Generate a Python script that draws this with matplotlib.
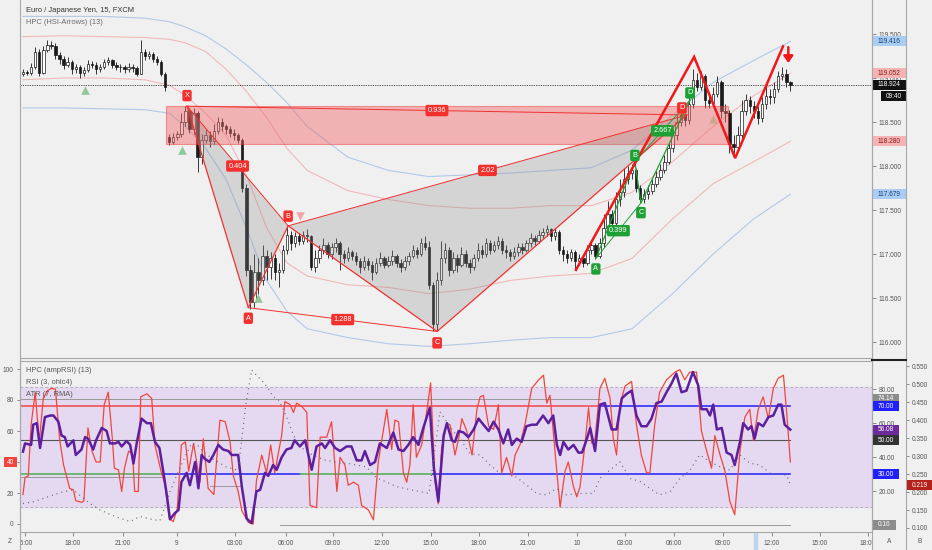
import numpy as np
import matplotlib
matplotlib.use("Agg")
import matplotlib.pyplot as plt
from matplotlib.patches import Rectangle, Polygon
from matplotlib.lines import Line2D
from matplotlib.transforms import blended_transform_factory as blend

plt.rcParams['font.family'] = ['Liberation Sans', 'DejaVu Sans']

# ---- price data (EURJPY 15m) ----
first_open = 119.05
gap_opens = {36: 118.33}
closes = [
    119.07, 119.06, 119.12, 119.30, 119.06, 119.32, 119.38, 119.36, 119.26, 119.22,
    119.15, 119.18, 119.10, 119.12, 119.06, 119.09, 119.16, 119.15, 119.10, 119.12,
    119.18, 119.20, 119.15, 119.13, 119.12, 119.10, 119.13, 119.11, 119.05, 119.30,
    119.25, 119.27, 119.22, 119.18, 119.05, 118.90, 118.27, 118.33, 118.36, 118.50,
    118.62, 118.42, 118.60, 118.10, 118.30, 118.35, 118.28, 118.40, 118.50, 118.45,
    118.42, 118.38, 118.35, 118.30, 117.75, 116.82, 116.45, 116.80, 116.70, 116.98,
    116.85, 116.95, 116.80, 116.82, 117.05, 117.22, 117.12, 117.20, 117.15, 117.22,
    117.20, 116.85, 116.95, 117.05, 117.10, 117.00, 117.08, 117.12, 117.00, 116.95,
    117.02, 116.98, 116.92, 116.85, 116.92, 116.88, 116.80, 116.90, 116.95, 116.88,
    116.92, 116.98, 116.90, 116.85, 116.92, 116.98, 117.05, 117.00, 117.12, 117.08,
    116.65, 116.20, 116.70, 116.95, 117.05, 116.82, 116.95, 116.88, 117.00, 116.90,
    116.85, 116.95, 117.05, 117.00, 117.12, 117.05, 117.10, 117.15, 117.05, 117.02,
    116.98, 117.02, 117.08, 117.05, 117.12, 117.18, 117.15, 117.22, 117.25, 117.28,
    117.20, 117.25, 117.05, 117.00, 116.95, 117.02, 116.92, 116.95, 116.90, 117.05,
    117.10, 116.98, 117.12, 117.30, 117.45, 117.35, 117.62, 117.70, 117.85, 117.92,
    117.95, 117.75, 117.62, 117.68, 117.72, 117.80, 117.88, 117.95, 118.05, 118.20,
    118.35, 118.50, 118.58, 118.52, 118.70, 118.98, 118.90, 119.02, 118.75, 118.72,
    118.82, 118.95, 118.62, 118.60, 118.25, 118.22, 118.35, 118.62, 118.75, 118.68,
    118.62, 118.55, 118.70, 118.80, 118.78, 118.88, 119.02, 119.05, 118.95, 118.92,
]
highs = [
    119.10, 119.09, 119.17, 119.35, 119.33, 119.36, 119.43, 119.42, 119.40, 119.30,
    119.25, 119.24, 119.21, 119.16, 119.15, 119.13, 119.20, 119.19, 119.18, 119.16,
    119.22, 119.24, 119.22, 119.18, 119.16, 119.15, 119.17, 119.16, 119.14, 119.43,
    119.33, 119.31, 119.29, 119.25, 119.20, 119.07, 118.36, 118.37, 118.40, 118.60,
    118.68, 118.66, 118.66, 118.62, 118.36, 118.42, 118.40, 118.48, 118.56, 118.54,
    118.48, 118.46, 118.42, 118.38, 118.32, 117.80, 116.88, 117.00, 116.95, 117.10,
    117.05, 117.02, 117.00, 116.90, 117.10, 117.32, 117.26, 117.25, 117.24, 117.26,
    117.28, 117.22, 117.05, 117.10, 117.18, 117.14, 117.12, 117.18, 117.15, 117.05,
    117.08, 117.05, 117.02, 116.95, 116.98, 116.96, 116.92, 116.96, 117.02, 116.98,
    116.98, 117.04, 117.00, 116.94, 116.98, 117.02, 117.10, 117.08, 117.18, 117.20,
    117.15, 116.68, 116.80, 117.15, 117.12, 117.08, 117.02, 117.00, 117.08, 117.05,
    116.94, 117.00, 117.12, 117.10, 117.18, 117.16, 117.15, 117.20, 117.18, 117.10,
    117.06, 117.08, 117.12, 117.12, 117.16, 117.24, 117.22, 117.27, 117.30, 117.33,
    117.30, 117.30, 117.27, 117.09, 117.05, 117.06, 117.05, 117.00, 116.98, 117.10,
    117.16, 117.12, 117.18, 117.45, 117.60, 117.50, 117.70, 117.85, 117.98, 118.00,
    118.02, 117.98, 117.78, 117.74, 117.78, 117.85, 117.94, 118.02, 118.12, 118.26,
    118.42, 118.58, 118.65, 118.66, 118.78, 119.10, 119.06, 119.08, 119.05, 118.82,
    118.90, 119.02, 118.98, 118.70, 118.64, 118.35, 118.45, 118.75, 118.82, 118.80,
    118.74, 118.68, 118.78, 118.92, 118.88, 118.95, 119.08, 119.12, 119.10, 118.97,
]
lows = [
    119.02, 119.03, 119.03, 119.10, 119.02, 119.05, 119.30, 119.33, 119.22, 119.16,
    119.10, 119.12, 119.05, 119.06, 119.00, 119.02, 119.07, 119.11, 119.05, 119.07,
    119.10, 119.15, 119.11, 119.09, 119.07, 119.06, 119.07, 119.07, 119.02, 119.04,
    119.21, 119.22, 119.18, 119.15, 119.02, 118.85, 118.24, 118.25, 118.30, 118.33,
    118.45, 118.38, 118.36, 117.93, 118.02, 118.26, 118.22, 118.25, 118.36, 118.40,
    118.36, 118.33, 118.30, 118.26, 117.70, 116.75, 116.38, 116.40, 116.55, 116.65,
    116.70, 116.72, 116.70, 116.62, 116.78, 117.00, 117.05, 117.08, 117.10, 117.11,
    117.14, 116.82, 116.80, 116.90, 117.00, 116.95, 116.94, 117.02, 116.82, 116.90,
    116.92, 116.93, 116.88, 116.78, 116.82, 116.82, 116.70, 116.77, 116.86, 116.84,
    116.85, 116.88, 116.85, 116.80, 116.82, 116.88, 116.95, 116.96, 116.98, 117.04,
    116.60, 116.13, 116.12, 116.65, 116.90, 116.75, 116.78, 116.80, 116.85, 116.85,
    116.78, 116.82, 116.92, 116.95, 116.97, 117.00, 117.02, 117.06, 117.00, 116.96,
    116.92, 116.94, 116.98, 117.00, 117.02, 117.08, 117.10, 117.12, 117.18, 117.20,
    117.15, 117.16, 117.00, 116.92, 116.90, 116.92, 116.82, 116.88, 116.85, 116.88,
    117.00, 116.94, 116.96, 117.08, 117.25, 117.28, 117.30, 117.55, 117.65, 117.80,
    117.85, 117.70, 117.58, 117.58, 117.63, 117.68, 117.76, 117.84, 117.92, 118.02,
    118.16, 118.30, 118.45, 118.46, 118.48, 118.66, 118.85, 118.86, 118.66, 118.66,
    118.68, 118.78, 118.55, 118.50, 118.15, 118.15, 118.18, 118.30, 118.58, 118.60,
    118.55, 118.48, 118.50, 118.65, 118.70, 118.72, 118.84, 118.98, 118.90, 118.85,
]

# envelope bands
band_bars = [0, 10, 20, 30, 36, 40, 45, 50, 55, 60, 65, 70, 80, 90, 100, 110, 120, 130, 140, 150, 160, 170, 180, 189]
upper_blue = [119.70, 119.70, 119.70, 119.68, 119.64, 119.58, 119.48, 119.33, 119.15, 118.95, 118.72, 118.45,
              118.10, 117.95, 117.88, 117.90, 117.92, 117.95, 117.98, 118.18, 118.58, 118.95, 119.20, 119.416]
upper_pink = [119.47, 119.48, 119.47, 119.46, 119.44, 119.40, 119.30, 119.10, 118.85, 118.55, 118.20, 117.95,
              117.72, 117.62, 117.55, 117.52, 117.52, 117.55, 117.55, 117.70, 118.05, 118.45, 118.80, 119.052]
lower_pink = [118.98, 119.00, 119.00, 118.98, 118.92, 118.80, 118.60, 118.35, 117.90, 117.30, 116.90, 116.75,
              116.65, 116.62, 116.55, 116.60, 116.70, 116.75, 116.78, 116.95, 117.40, 117.80, 118.05, 118.28]
lower_blue = [118.66, 118.66, 118.65, 118.64, 118.60, 118.45, 118.20, 117.85, 117.30, 116.70, 116.35, 116.15,
              116.05, 115.98, 115.95, 115.98, 116.02, 116.05, 116.05, 116.15, 116.55, 117.00, 117.40, 117.679]

# harmonic patterns
xabcd_names = ['X', 'A', 'B', 'C', 'D']
xabcd_bars = [40.4, 55.5, 65.3, 102.0, 163.5]
xabcd_prices = [118.68, 116.39, 117.32, 116.12, 118.58]
xabcd_ratios = ['0.404', '1.288', '2.02', '0.936']  # XB, AC, BD, XD
abcd_names = ['A', 'B', 'C', 'D']
abcd_bars = [141.1, 150.7, 152.2, 164.3]
abcd_prices = [116.95, 118.05, 117.58, 118.75]
abcd_ratios = ['0.399', '2.667']  # AC, BD
zone_bars = [35.2, 173.6]
zone_prices = [118.25, 118.68]
zigzag_bars = [136.2, 165.3, 175.4, 187.2]
zigzag_prices = [116.82, 119.24, 118.09, 119.36]
buy_bars = [15.3, 39.2, 57.9]
buy_prices = [118.86, 118.18, 116.50]
warn_bars = [170.0]
warn_prices = [118.53]
sell_bars = [68.2]
sell_prices = [117.43]
arrow_bar, arrow_top, arrow_tip = 188.5, 119.35, 119.17
last_price = 118.924

# ---- oscillators ----
rsi_bars = [0, 0.5, 1.3, 2, 3, 4, 5, 6, 7, 8, 9, 10, 11.5, 12.4, 13, 14.5, 15, 16, 17, 18, 19, 20, 21, 22,
            22.5, 23.5, 24.3, 25, 26, 27, 27.5, 28.4, 29, 30.5, 31.7, 32.5, 34, 35, 36, 37, 38, 39, 40, 40.8,
            42, 43.6, 44.4, 45.6, 47, 48.5, 49.8, 51, 51.8, 53, 53.9, 55.5, 56.7, 57.5, 58.8, 60, 61, 62,
            63.7, 64.5, 65.8, 66.6, 67.4, 68.6, 69.9, 70.7, 72.3, 73.2, 74.8, 76, 77.3, 78.1, 79.3, 80.1,
            81.4, 82.6, 83.4, 85.1, 86.3, 87.5, 89.6, 90.8, 91.6, 92.5, 93.7, 94.5, 95.3, 96.1, 96.9, 98.2,
            99.4, 100.4, 101.5, 102.3, 103.1, 104.4, 105.2, 106.4, 107.3, 108.1, 109.3, 110.6, 111.8, 112.6,
            113.4, 114.7, 115.9, 117.1, 117.9, 119.1, 120.4, 121.2, 122.4, 123.7, 125.3, 127, 128.2, 129,
            129.8, 130.7, 131.5, 132.3, 133.5, 134.3, 135.6, 136.4, 137.2, 138.4, 139.3, 140.1, 140.9, 142.1,
            143.3, 144.6, 145.4, 146.2, 147, 148.3, 149.9, 151.1, 152.3, 153.6, 154.4, 155.6, 156.8, 158.5,
            160.6, 161.8, 163, 164.2, 165.9, 167.1, 168.4, 169.6, 170.4, 171.7, 172.9, 174.1, 175.3, 176.6,
            177.8, 179, 179.9, 181.1, 182.3, 183.6, 184.8, 186, 187.3, 188.1, 189]
rsi_vals = [19, 30, 31, 64, 85, 53, 81, 86, 87.5, 87, 55, 38, 23, 22, 15, 14, 15, 62, 47, 40, 40, 77, 85, 55,
            36, 35, 21, 36, 47, 45, 21, 21, 82, 84, 81, 51, 34, 25, 4, 1.5, 10, 51, 53, 34,
            52, 27, 55, 23, 19, 67, 66, 53, 31, 21, 8.6, 1, 0, 28, 44.5, 33, 51, 33,
            57, 79, 77, 72, 78, 76, 72, 12, 10.5, 56, 56, 66, 21, 43, 38, 25,
            27, 25, 12, 9, 2.7, 40, 74, 48, 67, 66, 33, 27, 38, 77, 43, 51,
            72, 91, 27, 13, 49, 65, 64, 44.5, 55, 68, 60, 44.5, 74, 82,
            83, 63, 61, 77, 33, 43, 31, 44.5, 51, 65, 87.5, 93, 96, 78,
            83, 57, 33, 11, 34, 40, 24, 17.5, 24, 51, 75, 52, 55, 87.5,
            94, 81, 55, 44.5, 77, 89, 92, 64, 44.5, 33, 33, 64, 85, 93,
            98, 99.6, 93, 98, 98, 60, 47, 36, 57, 44.5, 34, 14.6, 6, 47,
            69, 74, 54, 74, 82, 68, 87.5, 94, 96, 72, 40]

amp_bars = [0, 0.5, 2, 2.5, 3.4, 4.2, 5.4, 6.7, 7.5, 8.7, 9.5, 10.3, 11, 12.4, 13, 14.4, 15.3, 16, 17.3, 18,
            19.4, 20.6, 21.4, 22.7, 23.5, 24.3, 25.5, 26.4, 27.2, 28, 29.2, 30.5, 31.5, 32.5, 33.6, 34.6,
            35.4, 36.2, 37.4, 38.3, 39, 40.3, 41.1, 42.4, 43.2, 44, 44.8, 45.9, 46.9, 48.1, 49.3, 50.6, 51.4,
            53, 53.9, 55.1, 56.3, 57.5, 58.4, 59.6, 60.4, 61.6, 62.5, 63.7, 64.9, 66.1, 66.9, 68.2, 69.5,
            71.1, 72.3, 73.6, 74.4, 75.6, 76.9, 78.1, 79.7, 80.9, 82.2, 83.4, 84.2, 85.5, 86.7, 87.9, 89.6,
            91.2, 92.5, 93.7, 94.9, 96.1, 97.4, 98.6, 100.2, 101.2, 102.3, 103.6, 104.4, 105.6, 106.4, 107.3,
            108.5, 109.7, 111, 112.2, 113.4, 114.7, 115.9, 117.1, 118.3, 119.5, 120.4, 121.6, 122.8, 124,
            125.3, 126.5, 128.1, 129.4, 130.6, 131.5, 132.3, 133.1, 134.3, 135.6, 136.8, 137.7, 138.9, 139.7,
            140.9, 142.1, 143.3, 144.2, 145, 146.2, 147.5, 148.7, 149.9, 151.1, 152.3, 153.6, 154.8, 156,
            157.3, 158.5, 159.7, 160.9, 162.2, 163.4, 165, 166.3, 167.1, 168.4, 169.2, 170, 170.9, 172.1,
            173.3, 174.5, 175.3, 176.6, 177.4, 178.6, 179.4, 180.2, 181.1, 182.3, 183.6, 184.8, 186, 186.8,
            187.6, 189]
amp_vals = [43.2, 48.0, 47.1, 59.0, 59.9, 45.3, 63.5, 64.4, 64.4, 60.8, 52.6, 51.7, 46.2, 49.8, 41.2, 44.4,
            51.7, 50.8, 44.4, 49.8, 57.1, 55.3, 48.0, 48.0, 48.9, 46.2, 49.4, 47.1, 36.2, 48.0, 62.6, 59.9,
            59.9, 48.9, 45.3, 30.7, 17.9, 3.3, 7.0, 8.8, 25.2, 30.7, 23.4, 37.1, 21.6, 41.2, 38.9, 37.1, 41.2,
            47.1, 44.4, 43.5, 41.2, 41.2, 22.5, 3.8, 1.1, 19.8, 20.7, 30.7, 28.9, 35.3, 32.5, 39.8, 44.4,
            45.3, 49.8, 46.2, 49.8, 32.5, 46.2, 48.0, 45.3, 49.8, 45.3, 43.5, 46.2, 46.2, 38.0, 38.0, 43.5,
            35.3, 37.1, 48.0, 45.3, 54.4, 44.4, 43.5, 47.1, 51.7, 47.1, 57.1, 69.0, 33.4, 13.9, 52.6, 59.9,
            49.8, 48.9, 55.3, 54.4, 51.7, 56.2, 62.6, 59.0, 55.3, 60.8, 56.2, 48.0, 56.2, 47.1, 50.8, 48.9,
            58.1, 59.0, 59.0, 64.4, 59.9, 64.4, 47.1, 41.2, 48.9, 44.4, 47.1, 42.6, 42.6, 50.8, 57.1, 43.5,
            70.8, 71.7, 63.5, 56.2, 56.2, 74.5, 77.2, 79.0, 64.4, 58.1, 58.1, 62.6, 71.7, 72.6, 78.1, 83.1,
            89.1, 78.1, 79.0, 90.0, 82.2, 68.1, 68.1, 64.4, 70.8, 56.2, 57.1, 42.6, 41.2, 35.3, 48.9, 59.9,
            56.2, 58.1, 50.8, 59.9, 58.1, 63.5, 64.4, 70.8, 70.8, 59.0, 56.08]

atr_bars = [0, 2.5, 5, 7.5, 10, 12.4, 14.4, 16.5, 19, 21.4, 23.9, 26.4, 28.8, 31.3, 33.7, 36.2, 38, 40, 41.5,
            43, 44.5, 47, 50, 53, 54.8, 56.3, 57.9, 59.1, 60.4, 61.6, 62.9, 64.1, 65.4, 66.6, 68, 70, 72, 74,
            76, 78, 80, 82, 84.5, 87, 90, 92, 96, 100, 102.7, 104.4, 106, 107.6, 110, 112.6, 115, 117.5,
            120.8, 124, 126.5, 129, 131.4, 133.9, 137.2, 140.5, 142.1, 144.6, 147, 149.5, 152, 154.4, 156.8,
            159.4, 161.8, 164.3, 166.7, 169.2, 171.7, 174.1, 176.6, 179, 181.5, 184, 186.4, 188.1, 189]
atr_vals = [0.168, 0.173, 0.182, 0.192, 0.201, 0.206, 0.187, 0.168, 0.150, 0.138, 0.127, 0.118, 0.132, 0.125,
            0.120, 0.200, 0.250, 0.300, 0.335, 0.330, 0.310, 0.290, 0.270, 0.260, 0.437, 0.539, 0.520, 0.506,
            0.488, 0.465, 0.456, 0.430, 0.395, 0.358, 0.330, 0.310, 0.300, 0.290, 0.285, 0.280, 0.280, 0.275,
            0.270, 0.240, 0.225, 0.215, 0.205, 0.196, 0.423, 0.395, 0.368, 0.350, 0.307, 0.303, 0.275, 0.252,
            0.247, 0.220, 0.196, 0.192, 0.210, 0.192, 0.196, 0.196, 0.238, 0.261, 0.284, 0.238, 0.229, 0.210,
            0.192, 0.201, 0.238, 0.261, 0.303, 0.284, 0.270, 0.261, 0.303, 0.280, 0.275, 0.252, 0.249, 0.247,
            0.219]

time_ticks = [0.5, 12.3, 24.6, 37.9, 52.2, 64.8, 76.4, 88.4, 100.5, 112.3, 124.4, 136.5, 148.3, 160.3,
              172.4, 184.5, 196.3, 208.1]
time_labels = ['15:00', '18:00', '21:00', '9', '03:00', '06:00', '09:00', '12:00', '15:00', '18:00',
               '21:00', '10', '03:00', '06:00', '09:00', '12:00', '15:00', '18:00']

# ---- layout (pixel based, 932x550) ----
W, H = 932, 550
BG = '#f0f0f0'
GRID = '#a8a8a8'
TXT = '#555555'
RED = '#f2312f'
GREEN = '#1fa035'
FS = 4.7

fig = plt.figure(figsize=(W / 100, H / 100), dpi=100, facecolor=BG)


def px_axes(x0, y0, x1, y1, **kw):
    return fig.add_axes([x0 / W, 1 - y1 / H, (x1 - x0) / W, (y1 - y0) / H], **kw)


def tag(axis, x0, x1, value, text, fc, dpp, tc='white', h=10):
    # price-scale tag: fixed pixel box, centred on value
    tr = blend(fig.transFigure, axis.transData)
    axis.add_patch(Rectangle((x0 / W, value - h / 2 * dpp), (x1 - x0) / W, h * dpp, transform=tr,
                             fc=fc, ec='none', clip_on=False, zorder=20))
    axis.text((x0 + x1) / 2 / W, value, text, transform=tr, ha='center', va='center', fontsize=FS,
              color=tc, zorder=21, clip_on=False)


def label(axis, x, y, text, fc):
    axis.text(x, y, text, ha='center', va='center', fontsize=5.3, color='white', zorder=12,
              bbox=dict(boxstyle='round,pad=0.3,rounding_size=0.25', fc=fc, ec='none'))


XMIN = -0.74
XMAX = XMIN + 852 / 4.06

# ================= main price panel =================
ax = px_axes(20, 0, 872, 358)
ax.set_facecolor(BG)
ax.set_xlim(XMIN, XMAX)
ax.set_ylim(116 - 16 / 88, 116 + 342 / 88)
DPP_MAIN = 1 / 88

n = len(closes)
bars = np.arange(n)
opens = np.array([first_open] + closes[:-1])
for k, v in gap_opens.items():
    opens[k] = v
c = np.array(closes)
up = c >= opens
body_lo = np.minimum(opens, c)
body_h = np.maximum(np.abs(c - opens), 0.006)

ax.plot(band_bars, upper_blue, color='#b3c9e9', lw=0.8, zorder=1)
ax.plot(band_bars, lower_blue, color='#b3c9e9', lw=0.8, zorder=1)
ax.plot(band_bars, upper_pink, color='#f1b9b9', lw=0.8, zorder=1)
ax.plot(band_bars, lower_pink, color='#f1b9b9', lw=0.8, zorder=1)

ax.vlines(bars, lows, highs, color='#1a1a1a', lw=0.6, zorder=3)
ax.bar(bars, body_h, bottom=body_lo, width=0.6, color=np.where(up, 'white', '#1a1a1a'),
       edgecolor='#1a1a1a', linewidth=0.5, zorder=3)

ax.axhline(last_price, color='#444', lw=0.7, ls=(0, (1.2, 1.2)), zorder=2)

# supply zone
ax.add_patch(Rectangle((zone_bars[0], zone_prices[0]), zone_bars[1] - zone_bars[0],
                       zone_prices[1] - zone_prices[0], facecolor='#f06868', alpha=0.45,
                       edgecolor=RED, lw=0.8, zorder=4))

# XABCD pattern
P = list(zip(xabcd_bars, xabcd_prices))
ax.add_patch(Polygon([P[0], P[1], P[2]], closed=True, fc='#8c8c8c', alpha=0.28, ec='none', zorder=4))
ax.add_patch(Polygon([P[2], P[3], P[4]], closed=True, fc='#8c8c8c', alpha=0.28, ec='none', zorder=4))
ax.plot(xabcd_bars, xabcd_prices, color=RED, lw=0.9, zorder=5)
pairs = [(0, 2), (1, 3), (2, 4), (0, 4)]
for (a, b), r in zip(pairs, xabcd_ratios):
    ax.plot([P[a][0], P[b][0]], [P[a][1], P[b][1]], color=RED, lw=0.7, zorder=5)
    label(ax, (P[a][0] + P[b][0]) / 2, (P[a][1] + P[b][1]) / 2, r, RED)
offs = [(0, 0.12), (0, -0.12), (0, 0.11), (0, -0.13), (-1.2, 0.08)]
for name, (bx, by), (dx, dy) in zip(xabcd_names, P, offs):
    label(ax, bx + dx, by + dy, name, RED)

# ABCD pattern
G = list(zip(abcd_bars, abcd_prices))
ax.plot(abcd_bars, abcd_prices, color=GREEN, lw=0.9, zorder=6)
for (a, b), r in zip([(0, 2), (1, 3)], abcd_ratios):
    ax.plot([G[a][0], G[b][0]], [G[a][1], G[b][1]], color=GREEN, lw=0.7, zorder=6)
    label(ax, (G[a][0] + G[b][0]) / 2, (G[a][1] + G[b][1]) / 2, r, GREEN)
goffs = [(0, -0.12), (0, 0.07), (0, -0.11), (0, 0.08)]
for name, (bx, by), (dx, dy) in zip(abcd_names, G, goffs):
    label(ax, bx + dx, by + dy, name, GREEN)

# zigzag + signals
ax.plot(zigzag_bars, zigzag_prices, color='#f01818', lw=1.8, zorder=7, solid_joinstyle='miter')
ax.scatter(buy_bars, buy_prices, marker='^', s=38, color='#8dc99a', zorder=8, linewidths=0)
ax.scatter(warn_bars, warn_prices, marker='^', s=38, color='#c9a98a', zorder=8, linewidths=0)
ax.scatter(sell_bars, sell_prices, marker='v', s=38, color='#f3a2aa', zorder=8, linewidths=0)
ax.annotate('', xy=(arrow_bar, arrow_tip), xytext=(arrow_bar, arrow_top),
            arrowprops=dict(arrowstyle='-|>,head_width=0.28,head_length=0.4', color='#f01818', lw=1.8,
                            shrinkA=0, shrinkB=0),
            zorder=9)

ax.yaxis.tick_right()
yt = np.arange(116.0, 119.51, 0.5)
ax.set_yticks(yt)
ax.set_yticklabels(['%.3f' % v for v in yt])
ax.tick_params(axis='y', length=3, width=0.6, color='#777', pad=2, labelsize=FS, labelcolor=TXT)
ax.set_xticks([])
for s in ['top', 'left']:
    ax.spines[s].set_visible(False)
for s in ['right', 'bottom']:
    ax.spines[s].set_color(GRID)
    ax.spines[s].set_linewidth(0.8)

tag(ax, 872, 906, 119.416, '119.416', '#a9cdf3', DPP_MAIN, '#1a3f73')
tag(ax, 872, 906, 119.052, '119.052', '#f5b3b3', DPP_MAIN, '#8b1a1a')
tag(ax, 872, 906, last_price, '118.924', '#111111', DPP_MAIN)
tag(ax, 881, 906, 118.795, '09:40', '#111111', DPP_MAIN)
tag(ax, 872, 906, 118.280, '118.280', '#f5b3b3', DPP_MAIN, '#8b1a1a')
tag(ax, 872, 906, 117.679, '117.679', '#a9cdf3', DPP_MAIN, '#1a3f73')

fig.text(26 / W, 1 - 10 / H, 'Euro / Japanese Yen, 15, FXCM', fontsize=5.4, color='#333', va='center')
fig.text(26 / W, 1 - 22 / H, 'HPC (HSI-Arrows) (13)', fontsize=5.4, color='#6a6a6a', va='center')

# ================= oscillator panel =================
axA = px_axes(20, 361, 872, 532)          # A scale (ampRSI, levels)
axA.set_facecolor(BG)
axA.set_xlim(XMIN, XMAX)
axA.set_ylim((525 - 532) / 1.7, (525 - 361) / 1.7)
DPP_A = 1 / 1.7

axA.axhspan(10.6, 81.2, color='#e4d9f1', zorder=0)
for lv in (10.6, 81.2):
    axA.axhline(lv, color='#a9a9a9', lw=0.6, ls=(0, (3, 3)), zorder=1)
segments = [
    (74.14, XMIN, 142, '#9a9a9a', 0.7),
    (70, XMIN, 142, '#f04848', 1.1),
    (70, 142, 189, '#1f1fff', 1.1),
    (50, XMIN, 189, '#555555', 0.8),
    (28.2, XMIN, 34.5, '#9a9a9a', 0.7),
    (30, XMIN, 34.5, '#4caf50', 1.1),
    (30, 34.5, 68.2, '#1f1fff', 1.1),
    (30, 68.2, 100.9, '#4caf50', 1.1),
    (30, 100.9, 189, '#1f1fff', 1.1),
    (23, 46, 53.4, '#9a9a9a', 0.7),
    (0.16, 63.3, 189, '#9a9a9a', 0.7),
]
for lv, x0, x1, col, lw in segments:
    axA.plot([x0, x1], [lv, lv], color=col, lw=lw, zorder=2)

axA.set_xticks(time_ticks)
axA.set_xticklabels(time_labels)
axA.tick_params(axis='x', length=3, width=0.6, color='#777', pad=2.5, labelsize=FS, labelcolor=TXT)
for s in axA.spines.values():
    s.set_color(GRID)
    s.set_linewidth(0.8)

axL = axA.twinx()                          # RSI scale (left)
axL.set_ylim((524 - 532) / 1.55, (524 - 361) / 1.55)
DPP_L = 1 / 1.55
axL.plot(rsi_bars, rsi_vals, color='#f2453d', lw=0.9, zorder=3)
axL.yaxis.tick_left()
axL.yaxis.set_label_position('left')
axL.set_yticks([0, 20, 40, 60, 80, 100])
axL.tick_params(axis='y', length=2.5, width=0.6, color='#777', pad=2, labelsize=FS, labelcolor=TXT)
for s in axL.spines.values():
    s.set_visible(False)

axP = axA.twinx()                          # ampRSI on A scale
axP.set_ylim(axA.get_ylim())
axP.plot(amp_bars, amp_vals, color='#5d1f9e', lw=1.8, zorder=4, solid_joinstyle='round')
axP.set_yticks([])
for s in axP.spines.values():
    s.set_visible(False)

axB = axA.twinx()                          # ATR scale
axB.set_ylim(0.1 + (528 - 532) * 0.002778, 0.1 + (528 - 361) * 0.002778)
DPP_B = 0.002778
axB.plot(atr_bars, atr_vals, color='#6a6a6a', lw=0.9, ls=(0, (0.8, 3.2)), zorder=5)
axB.spines['right'].set_position(('outward', 34 * 0.72))
bt = np.arange(0.1, 0.551, 0.05)
axB.set_yticks(bt)
axB.set_yticklabels(['%.3f' % v for v in bt])
axB.tick_params(axis='y', length=2.5, width=0.6, color='#777', pad=1.5, labelsize=FS, labelcolor=TXT)
for s in axB.spines.values():
    s.set_visible(False)

# twinx moved the host's ticks to the left; put A scale back on the right
axA.yaxis.tick_right()
axA.set_yticks([20, 40, 60, 80])
axA.set_yticklabels(['20.00', '40.00', '60.00', '80.00'])
axA.tick_params(axis='y', left=False, labelleft=False, right=True, labelright=True, length=3, width=0.6,
                color='#777', pad=2, labelsize=FS, labelcolor=TXT)

tag(axA, 872, 899, 74.14, '74.14', '#8c8c8c', DPP_A)
tag(axA, 872, 899, 70.0, '70.00', '#1f1fff', DPP_A)
tag(axA, 872, 899, 56.08, '56.08', '#6d2a9c', DPP_A)
tag(axA, 872, 899, 50.0, '50.00', '#333333', DPP_A)
tag(axA, 872, 899, 30.0, '30.00', '#1f1fff', DPP_A)
tag(axA, 872, 896, 0.16, '0.16', '#8c8c8c', DPP_A)
tag(axL, 4, 17, rsi_vals[-1], '40', '#f2453d', DPP_L)
tag(axB, 907, 932, atr_vals[-1], '0.219', '#b3211d', DPP_B)

for i, t in enumerate(['HPC (ampRSI) (13)', 'RSI (3, ohlc4)', 'ATR (7, RMA)']):
    fig.text(26 / W, 1 - (370 + 12.5 * i) / H, t, fontsize=5.4, color=TXT, va='center')

# ---- corner cells and column borders ----
for x0, x1, txt in [(0, 19.6, 'Z'), (872.4, 906, 'A'), (906.4, 932, 'B')]:
    cell = px_axes(x0, 533, x1, 550, zorder=10)
    cell.set_facecolor(BG)
    cell.set_xticks([])
    cell.set_yticks([])
    for s in cell.spines.values():
        s.set_visible(False)
    cell.text(0.5, 0.5, txt, ha='center', va='center', fontsize=FS, color=TXT, transform=cell.transAxes)

fig.add_artist(Rectangle((754 / W, 0), 3 / W, 17 / H, color='#bcd4ee', zorder=11))
for xv in (20, 872, 906):
    fig.add_artist(Line2D([xv / W, xv / W], [0, 1], color=GRID, lw=0.8, zorder=12))
fig.add_artist(Line2D([872 / W, 906 / W], [1 - 360 / H, 1 - 360 / H], color='#222', lw=1.5, zorder=12))

fig.savefig('out.png', dpi=100, facecolor=BG)
